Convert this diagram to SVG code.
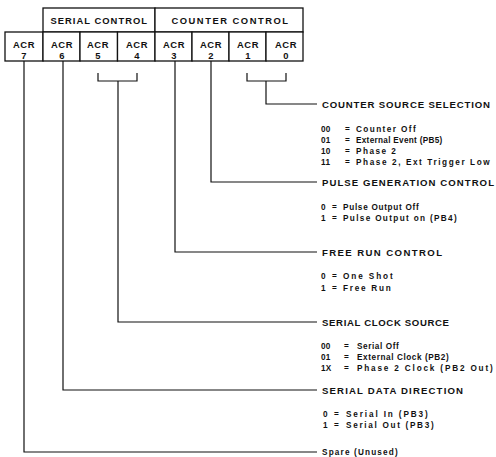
<svg xmlns="http://www.w3.org/2000/svg" width="496" height="457" viewBox="0 0 496 457">
  <style>
    .box { fill: #fff; stroke: #111; stroke-width: 1.3; }
    .wire { fill: none; stroke: #111; stroke-width: 1.2; }
    .cell { font-family: "Liberation Sans", Arial, sans-serif; font-weight: bold; font-size: 9.4px; fill: #111; text-anchor: middle; letter-spacing: 0.5px; }
    .head { font-family: "Liberation Sans", Arial, sans-serif; font-weight: bold; font-size: 9.6px; fill: #111; }
    .item { font-family: "Liberation Sans", Arial, sans-serif; font-weight: bold; font-size: 8.2px; fill: #111; letter-spacing: 0.3px; }
  </style>
  <rect width="496" height="457" fill="#fff"/>

  <!-- register table -->
  <g id="group-headers">
    <rect class="box" x="43" y="8" width="112" height="24"/>
    <rect class="box" x="155" y="8" width="148" height="24"/>
    <text class="cell" x="99" y="23.5" textLength="97" lengthAdjust="spacing">SERIAL CONTROL</text>
    <text class="cell" x="230" y="23.5" textLength="117" lengthAdjust="spacing">COUNTER CONTROL</text>
  </g>
  <g id="acr7"><rect class="box" x="5" y="32" width="38" height="29"/><text class="cell" x="24" y="48">ACR</text><text class="cell" x="24" y="58.5">7</text></g>
  <g id="acr6"><rect class="box" x="43" y="32" width="37" height="29"/><text class="cell" x="62" y="48">ACR</text><text class="cell" x="62" y="58.5">6</text></g>
  <g id="acr5"><rect class="box" x="80" y="32" width="37.5" height="29"/><text class="cell" x="98" y="48">ACR</text><text class="cell" x="98" y="58.5">5</text></g>
  <g id="acr4"><rect class="box" x="117.5" y="32" width="37.5" height="29"/><text class="cell" x="137" y="48">ACR</text><text class="cell" x="137" y="58.5">4</text></g>
  <g id="acr3"><rect class="box" x="155" y="32" width="37" height="29"/><text class="cell" x="174" y="48">ACR</text><text class="cell" x="174" y="58.5">3</text></g>
  <g id="acr2"><rect class="box" x="192" y="32" width="37" height="29"/><text class="cell" x="211" y="48">ACR</text><text class="cell" x="211" y="58.5">2</text></g>
  <g id="acr1"><rect class="box" x="229" y="32" width="37" height="29"/><text class="cell" x="248" y="48">ACR</text><text class="cell" x="248" y="58.5">1</text></g>
  <g id="acr0"><rect class="box" x="266" y="32" width="37" height="29"/><text class="cell" x="286" y="48">ACR</text><text class="cell" x="286" y="58.5">0</text></g>

  <!-- leader lines from the bits to their descriptions -->
  <g id="connectors">
    <path class="wire" d="M247 73 V81 H286 V73 M266 81 V104 H317"/>
    <path class="wire" d="M211 61 V182 H317"/>
    <path class="wire" d="M175 61 V252 H317"/>
    <path class="wire" d="M98 73 V81 H137 V73 M118 81 V322 H317"/>
    <path class="wire" d="M63 61 V390 H317"/>
    <path class="wire" d="M24 61 V452 H317"/>
  </g>

  <g id="counter-source">
    <text class="head" x="322" y="107.5" textLength="168" lengthAdjust="spacing">COUNTER SOURCE SELECTION</text>
    <text class="item" x="321" y="132">00</text><text class="item" x="345" y="132">=</text><text class="item" x="356" y="132" textLength="60" lengthAdjust="spacing">Counter Off</text>
    <text class="item" x="321" y="143">01</text><text class="item" x="345" y="143">=</text><text class="item" x="356" y="143">External Event (PB5)</text>
    <text class="item" x="321" y="154">10</text><text class="item" x="345" y="154">=</text><text class="item" x="356" y="154" textLength="40" lengthAdjust="spacing">Phase 2</text>
    <text class="item" x="321" y="165">11</text><text class="item" x="345" y="165">=</text><text class="item" x="356" y="165" textLength="134" lengthAdjust="spacing">Phase 2, Ext Trigger Low</text>
  </g>

  <g id="pulse-generation">
    <text class="head" x="322" y="185.5" textLength="172" lengthAdjust="spacing">PULSE GENERATION CONTROL</text>
    <text class="item" x="321" y="210">0</text><text class="item" x="332" y="210">=</text><text class="item" x="343" y="210" textLength="76" lengthAdjust="spacing">Pulse Output Off</text>
    <text class="item" x="321" y="221">1</text><text class="item" x="332" y="221">=</text><text class="item" x="343" y="221" textLength="114" lengthAdjust="spacing">Pulse Output on (PB4)</text>
  </g>

  <g id="free-run">
    <text class="head" x="322" y="255.5" textLength="120" lengthAdjust="spacing">FREE RUN CONTROL</text>
    <text class="item" x="321" y="279">0</text><text class="item" x="332" y="279">=</text><text class="item" x="343" y="279" textLength="50" lengthAdjust="spacing">One Shot</text>
    <text class="item" x="321" y="291">1</text><text class="item" x="332" y="291">=</text><text class="item" x="343" y="291" textLength="48" lengthAdjust="spacing">Free Run</text>
  </g>

  <g id="serial-clock">
    <text class="head" x="322" y="325.5" textLength="127" lengthAdjust="spacing">SERIAL CLOCK SOURCE</text>
    <text class="item" x="321" y="349">00</text><text class="item" x="344" y="349">=</text><text class="item" x="357" y="349" textLength="42" lengthAdjust="spacing">Serial Off</text>
    <text class="item" x="321" y="360">01</text><text class="item" x="344" y="360">=</text><text class="item" x="357" y="360" textLength="92" lengthAdjust="spacing">External Clock (PB2)</text>
    <text class="item" x="321" y="371">1X</text><text class="item" x="344" y="371">=</text><text class="item" x="357" y="371" textLength="136" lengthAdjust="spacing">Phase 2 Clock (PB2 Out)</text>
  </g>

  <g id="serial-direction">
    <text class="head" x="322" y="393.5" textLength="141" lengthAdjust="spacing">SERIAL DATA DIRECTION</text>
    <text class="item" x="323" y="417">0</text><text class="item" x="334" y="417">=</text><text class="item" x="346" y="417" textLength="82" lengthAdjust="spacing">Serial In (PB3)</text>
    <text class="item" x="323" y="428">1</text><text class="item" x="334" y="428">=</text><text class="item" x="346" y="428" textLength="88" lengthAdjust="spacing">Serial Out (PB3)</text>
  </g>

  <g id="spare">
    <text class="item" x="322" y="455" textLength="76" lengthAdjust="spacing">Spare (Unused)</text>
  </g>
</svg>
